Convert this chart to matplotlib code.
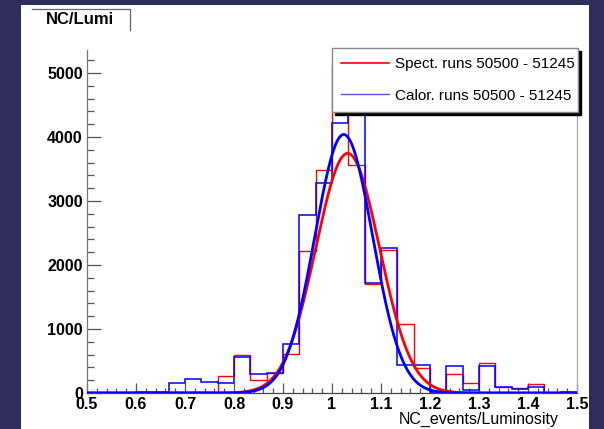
import numpy as np
import matplotlib
matplotlib.use("Agg")
import matplotlib.pyplot as plt
from matplotlib.ticker import MultipleLocator, FormatStrFormatter
from matplotlib.lines import Line2D
from matplotlib.patches import Rectangle

plt.rcParams['font.family'] = ['Liberation Sans', 'DejaVu Sans']

# histogram binning (30 bins over 0.5 - 1.5)
x_lo, x_hi, n_bins = 0.5, 1.5, 30

# counts per bin
spect_counts = [10, 15, 20, 5, 5, 10, 10, 15, 270, 589, 203, 307, 609, 2223, 3484,
                5120, 3562, 1700, 2234, 1078, 385, 30, 292, 151, 463, 99, 83, 141, 5, 15]
calor_counts = [5, 5, 5, 15, 15, 151, 214, 167, 151, 568, 292, 318, 770, 2781, 3276,
                4214, 4450, 1720, 2260, 437, 437, 15, 422, 47, 422, 99, 67, 99, 0, 10]

# gaussian fit parameters (amplitude, mean, sigma)
spect_fit = (3745, 1.032, 0.065)
calor_fit = (4040, 1.024, 0.059)

labels = ["Spect. runs 50500 - 51245", "Calor. runs 50500 - 51245"]

edges = np.linspace(x_lo, x_hi, n_bins + 1)
xs = np.linspace(x_lo, x_hi, 600)


def gaus(x, p):
    a, m, s = p
    return a * np.exp(-0.5 * ((x - m) / s) ** 2)


fig = plt.figure(figsize=(6.04, 4.29), dpi=100)
fig.patch.set_facecolor("#2e2d5c")
W, H = 604, 429
fig.add_artist(Rectangle((21 / W, 0), (589 - 21) / W, 1 - 5 / H,
                         transform=fig.transFigure, facecolor="white",
                         edgecolor="none", zorder=0))

ax = fig.add_axes([87 / W, 36 / H, 490 / W, 343 / H])
ax.set_facecolor("none")

ax.stairs(spect_counts, edges, color="red", lw=1.0, zorder=2)
ax.stairs(calor_counts, edges, color="blue", lw=1.1, zorder=3)
ax.plot(xs, gaus(xs, spect_fit), color="red", lw=2.0, zorder=4)
ax.plot(xs, gaus(xs, calor_fit), color="blue", lw=2.0, zorder=5)

ax.set_xlim(x_lo, x_hi)
ax.set_ylim(0, 5360)

ax.xaxis.set_major_locator(MultipleLocator(0.1))
ax.xaxis.set_minor_locator(MultipleLocator(0.02))
ax.yaxis.set_major_locator(MultipleLocator(1000))
ax.yaxis.set_minor_locator(MultipleLocator(200))
ax.xaxis.set_major_formatter(FormatStrFormatter("%g"))

ax.tick_params(axis="y", which="major", direction="in", length=10, width=0.9,
               color="#555555", labelsize=11.5, pad=3)
ax.tick_params(axis="y", which="minor", direction="in", length=5, width=0.9,
               color="#555555")
ax.tick_params(axis="x", which="major", direction="in", length=7, width=0.9,
               color="#555555", labelsize=11.5, pad=3)
ax.tick_params(axis="x", which="minor", direction="in", length=3.5, width=0.9,
               color="#555555")
for lab in ax.get_xticklabels() + ax.get_yticklabels():
    lab.set_fontweight("bold")

ax.spines["top"].set_visible(False)
ax.spines["left"].set_color("#777777")
ax.spines["bottom"].set_color("#444444")
ax.spines["right"].set_color("#aaaaaa")
for s in ax.spines.values():
    s.set_linewidth(0.9)

ax.set_xlabel("NC_events/Luminosity", fontsize=11.5, labelpad=0)
ax.xaxis.set_label_coords(0.962, -0.055)
ax.xaxis.label.set_horizontalalignment("right")

handles = [Line2D([], [], color="red", lw=1.2),
           Line2D([], [], color="#5555dd", lw=1.0)]
leg = ax.legend(handles, labels, loc="upper left",
                bbox_to_anchor=(0.5, 0.81, 0.503, 0.196), mode="expand",
                borderaxespad=0, fontsize=11, handlelength=3.1,
                handletextpad=0.4, labelspacing=1.15, borderpad=0.6,
                fancybox=False, framealpha=1, edgecolor="#888888",
                shadow={"color": "black", "alpha": 1})
leg.set_zorder(10)

# title box
fig.text(80 / W, 1 - 20 / H, "NC/Lumi", ha="center", va="center",
         fontsize=12, fontweight="bold")
fig.add_artist(Line2D([32 / W, 130 / W], [1 - 9 / H, 1 - 9 / H],
                      transform=fig.transFigure, color="#666666", lw=0.9))
fig.add_artist(Line2D([130 / W, 130 / W], [1 - 9 / H, 1 - 30 / H],
                      transform=fig.transFigure, color="#666666", lw=0.9))

fig.savefig("out.png", dpi=100, facecolor=fig.get_facecolor())
